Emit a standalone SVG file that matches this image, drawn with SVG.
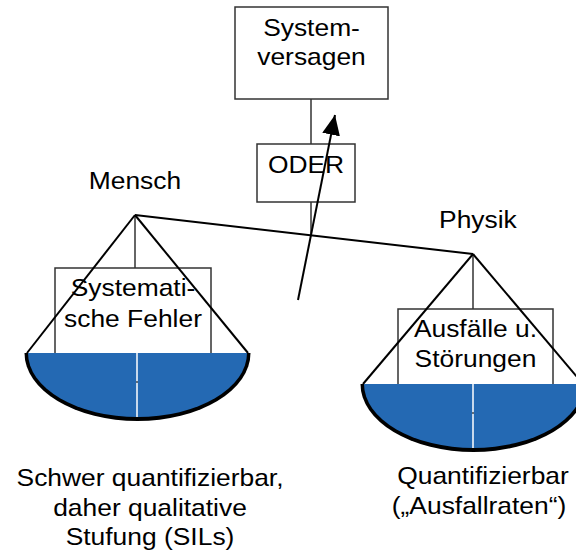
<svg xmlns="http://www.w3.org/2000/svg" width="576" height="552" viewBox="0 0 576 552">
  <defs>
    <style>
      .box { fill: #ffffff; stroke: #333333; stroke-width: 1.5; }
      .lbl { font-family: "Liberation Sans", Arial, sans-serif; font-size: 24px; fill: #000000; text-anchor: middle; }
      .rope { stroke: #000000; stroke-width: 2; fill: none; }
      .hang { stroke: #333333; stroke-width: 1.5; fill: none; }
      .pan { fill: #2469b3; }
      .rim { fill: #000000; }
      .mid { stroke: #ffffff; stroke-width: 1.5; }
    </style>
    <marker id="head" viewBox="0 0 20 18" refX="20" refY="9" markerWidth="20" markerHeight="18" markerUnits="userSpaceOnUse" orient="auto">
      <path d="M0,0 L20,9 L0,18 Z" fill="#000000"/>
    </marker>
  </defs>

  <rect width="576" height="552" fill="#ffffff"/>

  <!-- connectors: tree links, balance beam and the tipping arrow -->
  <g id="connectors">
    <line class="hang" x1="311" y1="99" x2="311" y2="144"/>
    <line class="hang" x1="311" y1="202" x2="311" y2="235"/>
    <line class="rope" x1="135" y1="215" x2="473" y2="254"/>
  </g>

  <!-- top event -->
  <g id="systemversagen">
    <rect class="box" x="235" y="7" width="153" height="92"/>
    <g transform="scale(1.1,1)">
      <text class="lbl" x="283.2" y="36">System-</text>
      <text class="lbl" x="283.2" y="65">versagen</text>
    </g>
  </g>

  <!-- OR gate -->
  <g id="oder">
    <rect class="box" x="257" y="144" width="98" height="58"/>
    <text class="lbl" x="278.2" y="173" transform="scale(1.1,1)">ODER</text>
  </g>

  <!-- left pan: human factors -->
  <g id="mensch">
    <text class="lbl" x="122.7" y="189" transform="scale(1.1,1)">Mensch</text>
    <line class="hang" x1="135" y1="215" x2="135" y2="268"/>
    <rect class="box" x="55" y="268" width="156" height="90"/>
    <g transform="scale(1.1,1)">
      <text class="lbl" x="120.9" y="296">Systemati-</text>
      <text class="lbl" x="120.9" y="327">sche Fehler</text>
    </g>
    <line class="rope" x1="135" y1="215" x2="27" y2="353"/>
    <line class="rope" x1="135" y1="215" x2="248" y2="353"/>
    <path class="rim" d="M24.5,353 A113,68 0 0 0 250.5,353 Z"/>
    <path class="pan" d="M28,353 A109.5,64 0 0 0 247,353 Z"/>
    <line class="mid" x1="137" y1="353" x2="137" y2="417"/>
    <line x1="136" y1="382" x2="138" y2="382" stroke="#000000" stroke-width="1"/>
  </g>

  <!-- right pan: physical failures -->
  <g id="physik">
    <text class="lbl" x="434.5" y="228" transform="scale(1.1,1)">Physik</text>
    <line class="hang" x1="473" y1="254" x2="473" y2="309"/>
    <rect class="box" x="398" y="309" width="155" height="80"/>
    <g transform="scale(1.1,1)">
      <text class="lbl" x="432.3" y="337">Ausfälle u.</text>
      <text class="lbl" x="432.3" y="367">Störungen</text>
    </g>
    <line class="rope" x1="473" y1="254" x2="363" y2="384"/>
    <line class="rope" x1="473" y1="254" x2="583" y2="384"/>
    <path class="rim" d="M360.5,384 A113,68 0 0 0 586.5,384 Z"/>
    <path class="pan" d="M364,384 A109.5,64 0 0 0 583,384 Z"/>
    <line class="mid" x1="473" y1="384" x2="473" y2="448"/>
    <line x1="472" y1="413" x2="474" y2="413" stroke="#000000" stroke-width="1"/>
  </g>

  <!-- tipping arrow -->
  <g id="tip-arrow">
    <line x1="298" y1="300" x2="335" y2="115" stroke="#000000" stroke-width="2" marker-end="url(#head)"/>
  </g>

  <!-- captions below the pans -->
  <g id="caption-mensch" transform="scale(1.1,1)">
    <text class="lbl" x="136.4" y="486">Schwer quantifizierbar,</text>
    <text class="lbl" x="136.4" y="516">daher qualitative</text>
    <text class="lbl" x="136.4" y="545">Stufung (SILs)</text>
  </g>
  <g id="caption-physik" transform="scale(1.1,1)">
    <text class="lbl" x="439.1" y="484">Quantifizierbar</text>
    <text class="lbl" x="435.5" y="514">(„Ausfallraten“)</text>
  </g>
</svg>
